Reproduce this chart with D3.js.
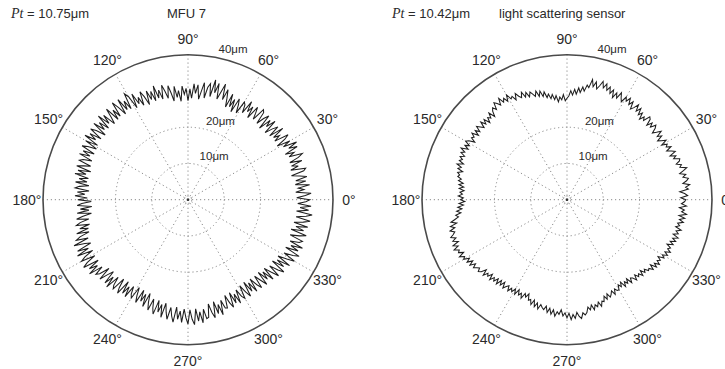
<!DOCTYPE html>
<html>
<head>
<meta charset="utf-8">
<script src="https://cdn.jsdelivr.net/npm/d3@7"></script>
<style>
  body { margin: 0; background: #fff; }
  svg text { font-family: "Liberation Sans", Arial, sans-serif; fill: #2a2a2a; }
</style>
</head>
<body>
<div id="root"></div>
<script>
// roundness profiles, radius in um, one sample per degree starting at 0
const angles = d3.range(0, 360, 1)

const mfu7 = [
  33.6, 30.0, 32.4, 34.0, 29.8, 32.1, 30.6, 33.8, 29.9, 32.9,
  30.2, 33.4, 31.5, 29.3, 32.9, 33.6, 29.5, 31.8, 30.0, 33.2,
  29.9, 32.6, 34.0, 30.3, 32.0, 29.6, 33.5, 31.2, 33.9, 30.1,
  32.4, 28.7, 31.5, 32.9, 28.9, 30.8, 29.2, 32.7, 28.6, 31.9,
  30.4, 28.2, 32.3, 29.6, 31.5, 27.9, 32.1, 30.6, 28.4, 31.8,
  32.4, 28.6, 30.3, 31.9, 28.0, 31.2, 29.3, 32.2, 28.3, 30.5,
  31.1, 27.4, 29.6, 31.2, 27.0, 30.5, 28.1, 31.6, 27.6, 30.0,
  32.3, 29.2, 33.5, 31.0, 28.9, 33.2, 30.4, 33.9, 29.1, 32.6,
  31.5, 28.4, 32.6, 30.1, 27.9, 31.8, 29.4, 32.0, 28.0, 30.6,
  27.3, 30.7, 29.1, 31.4, 27.2, 30.2, 28.4, 31.5, 27.5, 29.8,
  31.9, 28.5, 30.6, 32.4, 28.6, 31.3, 29.2, 32.8, 28.7, 31.6,
  29.4, 32.1, 28.3, 30.9, 32.6, 28.8, 31.4, 29.7, 33.0, 29.0,
  32.8, 34.1, 29.6, 32.4, 30.0, 33.7, 29.3, 31.8, 33.9, 29.7,
  32.2, 29.4, 33.6, 31.0, 29.2, 32.9, 30.3, 33.8, 29.5, 32.4,
  30.1, 33.4, 29.0, 31.7, 33.2, 29.3, 32.6, 30.4, 33.5, 29.1,
  32.6, 28.9, 31.3, 32.8, 28.8, 31.9, 29.6, 32.5, 28.6, 31.0,
  31.9, 28.4, 30.2, 32.1, 27.9, 31.4, 29.0, 32.0, 28.1, 30.6,
  28.3, 31.4, 27.6, 30.2, 31.3, 27.4, 30.6, 28.5, 31.2, 27.8,
  30.4, 26.7, 29.3, 30.6, 26.6, 29.8, 27.5, 30.8, 26.9, 29.5,
  31.2, 27.9, 30.4, 31.6, 28.0, 30.9, 28.6, 32.1, 28.7, 31.5,
  32.8, 29.5, 33.9, 30.9, 29.4, 33.6, 30.6, 34.2, 29.8, 32.5,
  33.9, 30.0, 32.8, 34.3, 29.9, 33.2, 30.9, 34.0, 30.1, 32.7,
  31.8, 28.9, 32.7, 30.3, 28.6, 32.4, 29.7, 32.9, 28.8, 31.2,
  32.1, 28.2, 30.8, 32.3, 28.0, 31.5, 29.0, 31.9, 28.3, 30.4,
  31.3, 27.7, 30.0, 31.8, 27.8, 30.9, 28.6, 32.0, 27.9, 30.5,
  32.4, 29.0, 31.4, 33.0, 28.9, 32.1, 29.8, 33.3, 29.2, 31.6,
  33.5, 30.1, 32.4, 34.0, 29.8, 33.1, 30.8, 33.9, 30.2, 32.6,
  34.3, 30.4, 33.0, 34.5, 30.2, 33.6, 31.1, 34.2, 30.5, 33.2,
  32.9, 29.3, 31.8, 33.4, 29.0, 32.5, 30.1, 33.2, 29.2, 31.6,
  31.8, 28.3, 30.7, 32.2, 28.1, 31.4, 29.0, 32.0, 28.2, 30.5,
  31.4, 27.7, 30.1, 31.7, 27.5, 30.8, 28.4, 31.6, 27.8, 30.2,
  31.6, 28.0, 29.9, 31.9, 27.9, 31.0, 28.7, 32.1, 28.3, 30.5,
  32.6, 29.0, 31.5, 33.1, 28.8, 32.2, 29.7, 33.4, 29.3, 31.8,
  33.9, 30.3, 32.8, 34.4, 30.0, 33.5, 31.1, 34.3, 30.4, 32.9,
  33.6, 29.8, 32.3, 34.1, 29.6, 33.0, 30.7, 33.9, 29.9, 32.4,
  34.2, 30.2, 32.9, 34.5, 30.1, 33.4, 31.0, 34.0, 30.3, 32.5
]

const lightSensor = [
  32.8, 31.4, 33.3, 32.5, 31.2, 33.6, 32.9, 34.1, 32.3, 33.4,
  34.0, 32.6, 33.5, 31.9, 33.1, 34.2, 32.4, 33.0, 31.7, 32.8,
  33.1, 31.5, 32.4, 30.9, 32.7, 31.8, 30.6, 32.2, 31.0, 31.6,
  30.2, 31.9, 30.7, 29.8, 31.5, 30.4, 32.1, 30.9, 29.9, 31.3,
  32.0, 30.5, 31.6, 30.1, 31.9, 32.3, 30.4, 31.2, 29.9, 31.7,
  30.6, 32.4, 31.0, 32.8, 31.4, 30.5, 32.6, 31.3, 33.0, 31.7,
  32.7, 30.9, 31.8, 33.1, 31.2, 32.5, 30.8, 32.9, 31.6, 33.3,
  32.1, 33.8, 32.4, 34.1, 32.7, 31.6, 33.5, 32.0, 33.9, 31.5,
  32.1, 30.3, 31.4, 29.8, 31.0, 29.2, 30.5, 28.9, 30.1, 28.6,
  28.0, 27.3, 29.0, 27.6, 28.4, 27.1, 28.9, 27.8, 29.3, 28.2,
  29.6, 28.7, 30.4, 29.2, 30.9, 29.5, 31.2, 29.8, 30.6, 31.4,
  30.2, 31.7, 30.5, 32.2, 30.8, 31.5, 32.6, 30.9, 32.3, 31.8,
  33.4, 31.7, 33.0, 32.1, 33.7, 31.9, 32.8, 33.5, 31.6, 32.6,
  31.9, 30.4, 32.2, 30.8, 31.5, 30.1, 31.8, 30.6, 32.0, 30.3,
  31.2, 32.1, 30.5, 31.7, 30.2, 32.0, 30.9, 31.4, 30.0, 31.6,
  32.3, 30.8, 31.9, 30.6, 32.5, 31.1, 32.0, 30.7, 31.8, 30.9,
  31.6, 30.2, 31.9, 30.5, 31.3, 29.8, 31.1, 30.4, 30.8, 29.7,
  30.4, 29.0, 30.1, 28.7, 29.9, 28.5, 29.6, 28.9, 30.0, 28.6,
  29.4, 28.2, 29.8, 28.6, 30.2, 29.1, 30.6, 29.5, 31.0, 30.3,
  31.4, 32.6, 31.1, 33.0, 31.9, 33.4, 32.2, 32.8, 33.7, 32.4,
  33.5, 32.1, 33.9, 32.6, 34.1, 32.8, 33.3, 32.0, 33.6, 32.3,
  32.9, 31.4, 32.5, 31.0, 32.3, 30.8, 31.9, 31.2, 30.6, 31.5,
  30.9, 29.5, 31.1, 29.8, 30.4, 29.1, 30.7, 29.4, 30.2, 28.9,
  30.3, 28.7, 29.9, 28.5, 30.1, 29.2, 28.6, 30.0, 28.8, 29.6,
  28.4, 29.8, 28.1, 29.5, 28.7, 30.0, 28.3, 29.2, 28.0, 29.7,
  29.3, 30.6, 29.1, 30.9, 29.6, 31.2, 29.8, 30.5, 31.0, 29.9,
  31.6, 30.3, 31.9, 30.6, 32.3, 31.0, 31.7, 30.4, 32.1, 31.2,
  32.6, 31.3, 33.1, 31.7, 32.8, 31.2, 32.4, 33.0, 31.5, 32.2,
  31.6, 30.2, 31.1, 29.8, 31.3, 30.0, 30.7, 29.5, 30.9, 29.6,
  29.9, 28.5, 29.6, 28.2, 29.4, 28.8, 28.0, 29.3, 27.9, 28.6,
  28.7, 27.4, 28.3, 27.1, 28.9, 27.6, 28.5, 27.3, 29.0, 27.8,
  28.2, 29.3, 27.9, 29.0, 28.4, 29.6, 28.1, 29.4, 28.7, 29.8,
  29.5, 30.6, 29.2, 30.9, 29.8, 31.1, 30.0, 30.7, 29.6, 31.2,
  30.4, 31.7, 30.6, 32.0, 30.9, 31.5, 30.2, 31.8, 30.7, 32.1,
  31.0, 32.4, 30.8, 32.1, 31.3, 32.6, 30.9, 31.9, 31.2, 32.7,
  31.5, 32.9, 31.2, 33.2, 31.8, 32.5, 31.1, 33.0, 31.6, 32.4
]

const spokeAngles = [0, 30, 60, 90, 120, 150, 180, 210, 240, 270, 300, 330]
const ringValues = [1, 10, 20]
const ringLabels = [10, 20, 40]
const rMax = 40

const width = 725, height = 369
const R = 145

const svg = d3.select("#root").append("svg")
  .attr("width", width)
  .attr("height", height)

const rad = deg => deg * Math.PI / 180

function drawPolar(cx, cy, values) {
  const r = d3.scaleLinear().domain([0, rMax]).range([0, R])
  const g = svg.append("g").attr("transform", `translate(${cx},${cy})`)

  // dotted rings
  g.selectAll("circle.ring")
    .data(ringValues)
    .enter().append("circle")
    .attr("class", "ring")
    .attr("r", d => r(d))
    .attr("fill", "none")
    .attr("stroke", "#8a8a8a")
    .attr("stroke-width", 1)
    .attr("stroke-dasharray", "1.2,2.8")

  // spokes
  g.selectAll("line.spoke")
    .data(spokeAngles)
    .enter().append("line")
    .attr("x1", 0).attr("y1", 0)
    .attr("x2", d => r(rMax) * Math.cos(rad(d)))
    .attr("y2", d => -r(rMax) * Math.sin(rad(d)))
    .attr("stroke", "#8a8a8a")
    .attr("stroke-width", 1)
    .attr("stroke-dasharray", "1.2,2.8")

  g.append("circle").attr("r", 1.3).attr("fill", "#333")

  // outer circle
  g.append("circle")
    .attr("r", r(rMax))
    .attr("fill", "none")
    .attr("stroke", "#4a4a4a")
    .attr("stroke-width", 1.6)

  // profile
  const line = d3.lineRadial()
    .angle((d, i) => Math.PI / 2 - rad(angles[i]))
    .radius(d => r(d))
    .curve(d3.curveLinearClosed)

  g.append("path")
    .datum(values)
    .attr("d", line)
    .attr("fill", "none")
    .attr("stroke", "#1e1e1e")
    .attr("stroke-width", 1.05)
    .attr("stroke-linejoin", "miter")

  // angle labels
  g.selectAll("text.ang")
    .data(spokeAngles)
    .enter().append("text")
    .attr("x", d => (R + 16) * Math.cos(rad(d)))
    .attr("y", d => -(R + 16) * Math.sin(rad(d)))
    .attr("text-anchor", "middle")
    .attr("dominant-baseline", "central")
    .style("font-size", "14px")
    .text(d => d + "°")

  // ring labels
  g.selectAll("text.ringlab")
    .data(ringLabels)
    .enter().append("text")
    .attr("x", d => r(d + 0.5) * Math.cos(rad(80)) + 5)
    .attr("y", d => -r(d + 0.5) * Math.sin(rad(80)) - 2)
    .style("font-size", "11.5px")
    .text(d => d + "μm")
}

function header(x, ptText, title, titleX) {
  const t = svg.append("text")
    .attr("x", x)
    .attr("y", 18)
    .style("font-size", "13px")
  t.append("tspan")
    .style("font-family", "'Liberation Serif', 'Times New Roman', serif")
    .style("font-style", "italic")
    .style("font-size", "14px")
    .text("Pt")
  t.append("tspan").text(" = " + ptText)

  svg.append("text")
    .attr("x", titleX)
    .attr("y", 18)
    .style("font-size", "13px")
    .text(title)
}

drawPolar(188, 199.7, mfu7)
drawPolar(567, 199.7, lightSensor)
header(11, "10.75μm", "MFU 7", 167)
header(392, "10.42μm", "light scattering sensor", 499)
</script>
</body>
</html>
